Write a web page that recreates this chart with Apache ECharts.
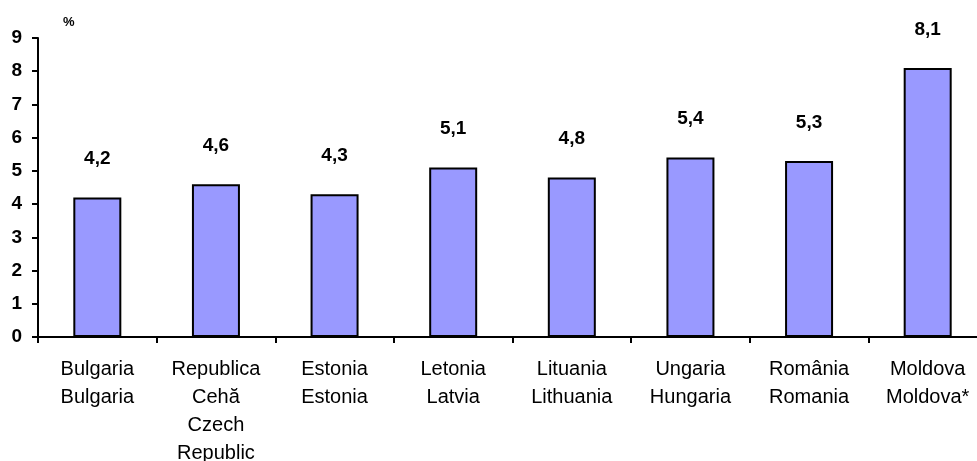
<!DOCTYPE html>
<html><head><meta charset="utf-8">
<script src="https://cdn.jsdelivr.net/npm/echarts@6/dist/echarts.min.js"></script>
<style>html,body{margin:0;padding:0;background:#fff}#c{width:977px;height:461px}</style>
</head><body><div id="c"></div>
<script>
const categories = ['Bulgaria\nBulgaria', 'Republica\nCehă\nCzech\nRepublic', 'Estonia\nEstonia', 'Letonia\nLatvia', 'Lituania\nLithuania', 'Ungaria\nHungaria', 'România\nRomania', 'Moldova\nMoldova*'];
const values = [4.2, 4.6, 4.3, 5.1, 4.8, 5.4, 5.3, 8.1];
const yTicks = [0, 1, 2, 3, 4, 5, 6, 7, 8, 9];

const chart = echarts.init(document.getElementById('c'));
chart.setOption({
  animation: false,
  grid: { left: 38, right: -10, top: 38, bottom: 124, containLabel: false, outerBoundsMode: 'none' },
  xAxis: {
    type: 'category', data: categories,
    axisLine: { lineStyle: { color: '#000', width: 2 } },
    axisTick: { show: true, length: 6, lineStyle: { color: '#000', width: 2 } },
    axisLabel: { color: '#000', fontFamily: 'Liberation Sans, Arial', fontSize: 20, lineHeight: 28, margin: 18, interval: 0 }
  },
  yAxis: {
    type: 'value', min: 0, max: 9, interval: 1,
    name: '%', nameLocation: 'end', nameGap: 9,
    nameTextStyle: { color: '#000', fontWeight: 'bold', fontSize: 13, fontFamily: 'Liberation Sans, Arial', align: 'left', padding: [0, 0, 0, 25] },
    axisLine: { show: true, lineStyle: { color: '#000', width: 2 } },
    axisTick: { show: true, length: 6, lineStyle: { color: '#000', width: 2 } },
    splitLine: { show: false },
    axisLabel: { color: '#000', fontWeight: 'bold', fontSize: 19, fontFamily: 'Liberation Sans, Arial', margin: 16,
      formatter: v => yTicks.includes(v) ? String(v) : '' }
  },
  series: [{
    type: 'bar', data: values, barWidth: 48,
    itemStyle: { color: '#9999FF', borderColor: '#000', borderWidth: 2 },
    label: { show: true, position: 'top', distance: 29, color: '#000', fontWeight: 'bold', fontSize: 19, fontFamily: 'Liberation Sans, Arial',
      formatter: p => String(p.value).replace('.', ',') }
  }]
});
</script></body></html>
